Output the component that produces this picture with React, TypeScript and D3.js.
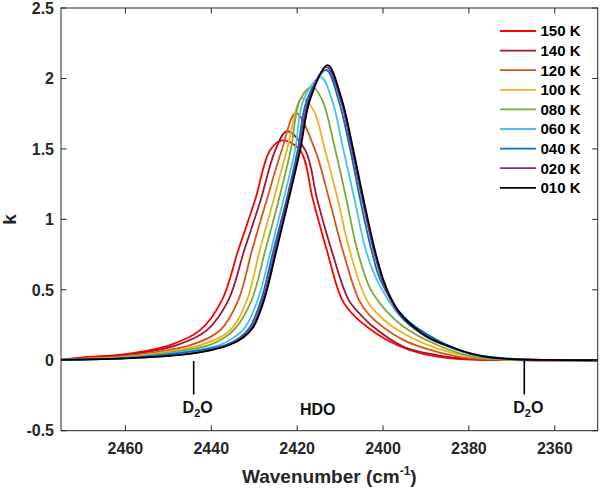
import React from 'react';
import * as d3 from 'd3';

type Pt = [number, number]; // [wavenumber, k]

// values
const k150: Pt[] = [[2475, 0.004], [2470, 0.02], [2460, 0.044], [2449.6, 0.108], [2442.6, 0.214], [2437.5, 0.427], [2433.7, 0.782], [2429.8, 1.137], [2426.3, 1.49], [2423.5, 1.56], [2419.3, 1.49], [2416.3, 1.137], [2413.1, 0.782], [2409.5, 0.427], [2406.2, 0.3], [2403.2, 0.226], [2398.3, 0.131], [2393.7, 0.072], [2387.4, 0.025], [2381, 0.006], [2370, 0.001], [2350, 0]];
const k140: Pt[] = [[2475, 0.004], [2470, 0.016], [2460, 0.036], [2448, 0.108], [2441, 0.214], [2436, 0.427], [2432.3, 0.782], [2428.5, 1.137], [2425.1, 1.49], [2422.4, 1.625], [2418.1, 1.49], [2415.3, 1.137], [2412, 0.782], [2408, 0.427], [2405.4, 0.33], [2402.8, 0.25], [2395.2, 0.096], [2387.4, 0.037], [2380, 0.01], [2370, 0.001], [2350, 0]];
const k120: Pt[] = [[2475, 0.003], [2470, 0.012], [2460, 0.03], [2444.9, 0.108], [2437.9, 0.214], [2433.7, 0.427], [2430.5, 0.782], [2427.1, 1.137], [2423.6, 1.49], [2420.3, 1.755], [2415.8, 1.49], [2412.5, 1.137], [2409.4, 0.782], [2405.6, 0.427], [2403, 0.315], [2395.2, 0.143], [2387.4, 0.06], [2379.7, 0.013], [2368, 0.001], [2350, 0]];
const k100: Pt[] = [[2475, 0.003], [2470, 0.01], [2460, 0.024], [2442.6, 0.108], [2435.6, 0.214], [2431.7, 0.427], [2428.7, 0.782], [2425.5, 1.137], [2422.4, 1.49], [2418.9, 1.86], [2416.2, 1.775], [2413.5, 1.49], [2410.5, 1.137], [2407.8, 0.782], [2403.8, 0.427], [2400.3, 0.3], [2395.2, 0.19], [2387.4, 0.084], [2379.7, 0.025], [2372, 0.005], [2365, 0.001], [2350, 0]];
const k080: Pt[] = [[2475, 0.003], [2470, 0.008], [2460, 0.02], [2440.5, 0.108], [2437, 0.16], [2434.3, 0.23], [2430.6, 0.427], [2427.4, 0.782], [2424.3, 1.137], [2421.5, 1.49], [2419.3, 1.85], [2416.5, 1.94], [2414.2, 1.85], [2411.1, 1.49], [2408.5, 1.137], [2406, 0.782], [2403, 0.51], [2399.4, 0.356], [2395.2, 0.238], [2387.4, 0.108], [2379.7, 0.03], [2372, 0.006], [2364, 0.001], [2350, 0]];
const k060: Pt[] = [[2475, 0.003], [2470, 0.007], [2460, 0.017], [2438.1, 0.108], [2434.8, 0.16], [2432.2, 0.23], [2429.2, 0.427], [2426.1, 0.782], [2423.2, 1.137], [2420.5, 1.49], [2418.5, 1.85], [2414.5, 2.01], [2411.9, 1.85], [2409.2, 1.49], [2406.6, 1.137], [2404, 0.782], [2401.4, 0.569], [2395.2, 0.285], [2387.4, 0.131], [2379.7, 0.044], [2372, 0.012], [2362, 0.001], [2350, 0]];
const k040: Pt[] = [[2475, 0.003], [2470, 0.006], [2460, 0.015], [2436.7, 0.108], [2433.4, 0.16], [2431.1, 0.23], [2428.4, 0.427], [2425.5, 0.782], [2422.5, 1.137], [2419.9, 1.49], [2417.7, 1.85], [2413.2, 2.06], [2410.4, 1.85], [2407.6, 1.49], [2405.3, 1.137], [2402.7, 0.782], [2400.6, 0.569], [2395.2, 0.309], [2387.4, 0.143], [2379.7, 0.049], [2372, 0.015], [2362, 0.002], [2350, 0]];
const k020: Pt[] = [[2475, 0.003], [2470, 0.005], [2460, 0.013], [2445, 0.047], [2440, 0.074], [2436.1, 0.108], [2432.9, 0.16], [2430.6, 0.23], [2428, 0.427], [2425.1, 0.782], [2422.3, 1.137], [2419.6, 1.49], [2417.3, 1.85], [2413.1, 2.08], [2409.9, 1.85], [2407.2, 1.49], [2404.8, 1.137], [2402.2, 0.782], [2400.2, 0.569], [2398.6, 0.45], [2396.3, 0.333], [2393.2, 0.238], [2389.3, 0.155], [2384.6, 0.096], [2380, 0.049], [2375.3, 0.02], [2370.3, 0.008], [2362, 0.002], [2350, 0]];
const k010: Pt[] = [[2475, 0.003], [2470, 0.005], [2460, 0.013], [2445, 0.046], [2440, 0.072], [2435.8, 0.108], [2432.6, 0.16], [2430.3, 0.23], [2427.7, 0.427], [2424.8, 0.782], [2422, 1.137], [2419.3, 1.49], [2417, 1.85], [2412.9, 2.095], [2409.6, 1.85], [2406.9, 1.49], [2404.5, 1.137], [2401.9, 0.782], [2399.9, 0.569], [2398.3, 0.45], [2396, 0.333], [2392.9, 0.238], [2389, 0.155], [2384.3, 0.096], [2379.7, 0.049], [2375, 0.02], [2370, 0.008], [2362, 0.002], [2350, 0]];

const labels = ['150 K', '140 K', '120 K', '100 K', '080 K', '060 K', '040 K', '020 K', '010 K'];
const seriesData = [k150, k140, k120, k100, k080, k060, k040, k020, k010];
const colors = ['#ff0000', '#a2142f', '#d95319', '#edb120', '#77ac30', '#4dbeee', '#0072bd', '#7e2f8e', '#000000'];

const xTicks = [2460, 2440, 2420, 2400, 2380, 2360];
const yTicks = [-0.5, 0, 0.5, 1, 1.5, 2, 2.5];
const d2oMarks = [2444.1, 2367.1];
const hdoPos = 2415.2;

const font = '"Liberation Sans", Arial, Helvetica, sans-serif';
const axisColor = '#262626';

const App: React.FC = () => {
  const left = 61, right = 597.7, top = 8, bottom = 430.7;
  const x = d3.scaleLinear().domain([2475, 2350]).range([left, right]);
  const y = d3.scaleLinear().domain([-0.5, 2.5]).range([bottom, top]);
  const line = d3.line<Pt>()
    .x((d) => x(d[0]))
    .y((d) => y(d[1]))
    .curve(d3.curveCatmullRom.alpha(0.5));
  const tick = 5.5;

  return (
    <svg width={600} height={489} style={{ position: 'absolute', left: 0, top: 0 }} fontFamily={font}>
      <rect x={0} y={0} width={600} height={489} fill="#fff" />
      <defs>
        <clipPath id="plot">
          <rect x={left} y={top} width={right - left} height={bottom - top} />
        </clipPath>
      </defs>

      {/* curves, warmest first so 010 K ends on top */}
      <g clipPath="url(#plot)" fill="none">
        {seriesData.map((s, i) => (
          <path key={labels[i]} d={line(s) || ''} stroke={colors[i]} strokeWidth={1.8} strokeLinejoin="round" />
        ))}
      </g>

      {/* box and ticks */}
      <rect x={left} y={top} width={right - left} height={bottom - top} fill="none" stroke={axisColor} strokeWidth={1} />
      {xTicks.map((t) => (
        <g key={'x' + t}>
          <line x1={x(t)} x2={x(t)} y1={bottom} y2={bottom - tick} stroke={axisColor} />
          <line x1={x(t)} x2={x(t)} y1={top} y2={top + tick} stroke={axisColor} />
          <text x={x(t)} y={454} textAnchor="middle" fontSize={16} fontWeight="bold" fill="#262626">{t}</text>
        </g>
      ))}
      {yTicks.map((t) => (
        <g key={'y' + t}>
          <line x1={left} x2={left + tick} y1={y(t)} y2={y(t)} stroke={axisColor} />
          <line x1={right} x2={right - tick} y1={y(t)} y2={y(t)} stroke={axisColor} />
          <text x={54} y={y(t)} dy="0.36em" textAnchor="end" fontSize={16} fontWeight="bold" fill="#262626">{t}</text>
        </g>
      ))}

      {/* axis titles */}
      <text x={(left + right) / 2} y={483} textAnchor="middle" fontSize={19} fontWeight="bold" fill="#262626">
        Wavenumber (cm<tspan fontSize={12} dy={-8}>-1</tspan><tspan dy={8}>)</tspan>
      </text>
      <text transform={`translate(16, ${(top + bottom) / 2}) rotate(-90)`} textAnchor="middle" fontSize={19} fontWeight="bold" fill="#262626">k</text>

      {/* band annotations */}
      {d2oMarks.map((w) => (
        <g key={'d2o' + w}>
          <line x1={x(w)} x2={x(w)} y1={361} y2={394.5} stroke="#000" strokeWidth={1.6} />
          <text x={x(w) + 4} y={413} textAnchor="middle" fontSize={16} fontWeight="bold" fill="#111">
            D<tspan fontSize={11} dy={4}>2</tspan><tspan dy={-4}>O</tspan>
          </text>
        </g>
      ))}
      <text x={x(hdoPos)} y={415} textAnchor="middle" fontSize={16} fontWeight="bold" fill="#111">HDO</text>

      {/* legend */}
      <g>
        {labels.map((lab, i) => {
          const ly = 31 + i * 19.6;
          return (
            <g key={'lg' + lab}>
              <line x1={500} x2={536} y1={ly} y2={ly} stroke={colors[i]} strokeWidth={1.8} />
              <text x={540.5} y={ly} dy="0.36em" fontSize={15} fontWeight="bold" fill="#000">{lab}</text>
            </g>
          );
        })}
      </g>
    </svg>
  );
};

export default App;
